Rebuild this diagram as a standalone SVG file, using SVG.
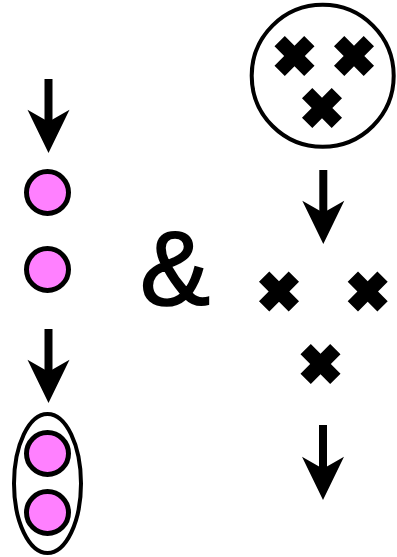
<svg xmlns="http://www.w3.org/2000/svg" xmlns:xlink="http://www.w3.org/1999/xlink" width="397" height="557" viewBox="0 0 397 557">
<style>
.dot{fill:#ff80ff;stroke:#000;stroke-width:5}
.ring{fill:none;stroke:#000;stroke-width:4}
.arr{stroke:#000;stroke-width:8;fill:none}
.amp{font-family:"Liberation Sans",Arial,sans-serif;font-size:105px;fill:#000;stroke:#000;stroke-width:1.6}
</style>
<defs>
<marker id="head" markerUnits="userSpaceOnUse" orient="auto" refX="0" refY="0" markerWidth="60" markerHeight="60" viewBox="-20 -20 50 40" overflow="visible">
<path d="M-1,0 L-11,-17.5 L25,0 L-11,17.5 Z" fill="#000"/>
</marker>
<path id="x" d="M7.3,-21 L7.3,-7.3 L21,-7.3 L21,7.3 L7.3,7.3 L7.3,21 L-7.3,21 L-7.3,7.3 L-21,7.3 L-21,-7.3 L-7.3,-7.3 L-7.3,-21 Z" transform="rotate(45)" fill="#000"/>
</defs>
<rect width="397" height="557" fill="#fff"/>
<g id="connectors">
<line class="arr" x1="48.5" y1="79" x2="48.5" y2="123" marker-end="url(#head)"/>
<line class="arr" x1="48.5" y1="329" x2="48.5" y2="373" marker-end="url(#head)"/>
<line class="arr" x1="323.3" y1="170" x2="323.3" y2="214" marker-end="url(#head)"/>
<line class="arr" x1="323" y1="425" x2="323" y2="470" marker-end="url(#head)"/>
</g>
<g id="dot1"><circle class="dot" cx="47.5" cy="192.5" r="21"/></g>
<g id="dot2"><circle class="dot" cx="47.5" cy="269.5" r="21"/></g>
<g id="pair">
<ellipse class="ring" cx="47.5" cy="483.5" rx="33.5" ry="69.5"/>
<circle class="dot" cx="47.5" cy="453.5" r="21"/>
<circle class="dot" cx="47.5" cy="512.5" r="21"/>
</g>
<g id="amp"><text class="amp" x="140" y="305">&amp;</text></g>
<g id="group">
<circle class="ring" cx="322.7" cy="75.8" r="71"/>
<use xlink:href="#x" transform="translate(294.5,56)"/>
<use xlink:href="#x" transform="translate(354,56)"/>
<use xlink:href="#x" transform="translate(322,108)"/>
</g>
<g id="scattered">
<use xlink:href="#x" transform="translate(279,291.5)"/>
<use xlink:href="#x" transform="translate(367.7,291.5)"/>
<use xlink:href="#x" transform="translate(320.5,364)"/>
</g>
</svg>
